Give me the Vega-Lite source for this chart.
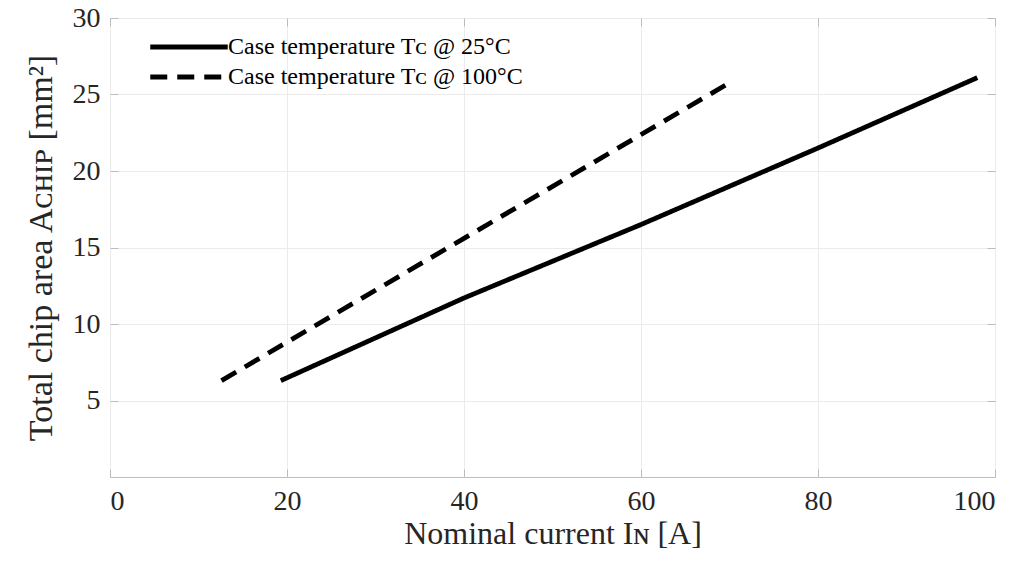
{
  "$schema": "https://vega.github.io/schema/vega-lite/v6.json",
  "width": 885,
  "height": 459,
  "autosize": {"type": "none"},
  "padding": {"left": 110, "top": 18, "right": 33, "bottom": 86},
  "background": "white",
  "config": {
    "font": "Liberation Serif",
    "view": {"stroke": "#bcbcbc", "strokeWidth": 1},
    "legend": {"labelFont": "Liberation Serif", "labelFontSize": 24},
    "axis": {
      "domain": false,
      "grid": true,
      "gridColor": "#ebebeb",
      "gridWidth": 1,
      "tickColor": "#bcbcbc",
      "tickSize": -8,
      "labelFont": "Liberation Serif",
      "labelFontSize": 28,
      "labelColor": "#262626",
      "titleFont": "Liberation Serif",
      "titleFontSize": 32,
      "titleColor": "#262626",
      "titleFontWeight": "normal"
    }
  },
  "data": {
    "values": [
      {"I": 19.3, "A": 6.3, "series": "Case temperature Tᴄ @ 25°C"},
      {"I": 40, "A": 11.7, "series": "Case temperature Tᴄ @ 25°C"},
      {"I": 60, "A": 16.5, "series": "Case temperature Tᴄ @ 25°C"},
      {"I": 80, "A": 21.5, "series": "Case temperature Tᴄ @ 25°C"},
      {"I": 98, "A": 26.1, "series": "Case temperature Tᴄ @ 25°C"},
      {"I": 12.6, "A": 6.3, "series": "Case temperature Tᴄ @ 100°C"},
      {"I": 40, "A": 15.6, "series": "Case temperature Tᴄ @ 100°C"},
      {"I": 70.1, "A": 25.8, "series": "Case temperature Tᴄ @ 100°C"}
    ]
  },
  "layer": [
    {
      "mark": {"type": "line", "color": "black", "strokeWidth": 4.8, "strokeCap": "butt", "strokeJoin": "round"},
      "encoding": {
        "x": {
          "field": "I", "type": "quantitative",
          "scale": {"domain": [0, 100], "nice": false},
          "axis": {"orient": "bottom", "values": [0, 20, 40, 60, 80, 100], "title": "Nominal current Iɴ [A]", "labelPadding": 18, "titlePadding": 3}
        },
        "y": {
          "field": "A", "type": "quantitative",
          "scale": {"domain": [0, 30], "nice": false},
          "axis": {"orient": "left", "values": [5, 10, 15, 20, 25, 30], "title": "Total chip area Aᴄʜɪᴘ [mm²]", "titleFontSize": 34, "labelPadding": 18, "titlePadding": 14}
        },
        "strokeDash": {
          "field": "series", "type": "nominal",
          "scale": {
            "domain": ["Case temperature Tᴄ @ 25°C", "Case temperature Tᴄ @ 100°C"],
            "range": [[1, 0], [17, 10]]
          },
          "legend": {
            "orient": "none",
            "legendX": 38,
            "legendY": 11,
            "title": null,
            "symbolType": "M-2.5,0H2.5",
            "symbolSize": 961,
            "symbolOffset": 23,
            "symbolStrokeWidth": 4.8,
            "symbolStrokeColor": "black",
            "symbolFillColor": "transparent",
            "labelFont": "Liberation Serif",
            "labelFontSize": 24,
            "labelColor": "black",
            "labelOffset": 21,
            "labelLimit": 0,
            "rowPadding": 0,
            "padding": 0,
            "encode": {
              "labels": {"update": {"font": {"value": "Liberation Serif"}, "fontSize": {"value": 24}}}
            }
          }
        }
      }
    },
    {
      "mark": {"type": "point", "opacity": 0},
      "encoding": {
        "x": {
          "field": "I", "type": "quantitative",
          "axis": {"orient": "top", "values": [0, 20, 40, 60, 80, 100], "labels": false, "title": null, "grid": false}
        },
        "y": {
          "field": "A", "type": "quantitative",
          "axis": {"orient": "right", "values": [0, 5, 10, 15, 20, 25, 30], "labels": false, "title": null, "grid": false}
        }
      }
    }
  ],
  "resolve": {"axis": {"x": "independent", "y": "independent"}}
}
